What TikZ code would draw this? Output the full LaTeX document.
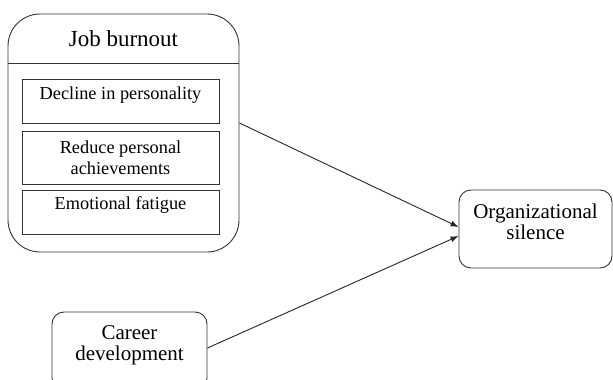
\documentclass[tikz,border=0pt]{standalone}
\usepackage{fontspec}
\setmainfont{Liberation Serif}
\usetikzlibrary{arrows.meta}
% two-line label lifted by #1 above the centre of its box
\newcommand{\liftedlines}[2]{\raisebox{#1}[0pt][0pt]{\begin{tabular}{@{}c@{}}#2\end{tabular}}}
\begin{document}
\begin{tikzpicture}[x=1pt,y=-1pt,
  frame/.style={draw=black!80,line width=0.9pt,inner sep=0pt},
  subbox/.style={frame,minimum width=197pt,font=\fontsize{18.3}{20.5}\selectfont,align=center},
  outerbox/.style={frame,rounded corners=12pt,minimum width=153pt,font=\fontsize{21}{21}\selectfont},
  link/.style={draw=black!85,line width=0.9pt,-{Latex[length=8pt,width=6pt]}}]
\useasboundingbox (0,0) rectangle (613,380);
\clip (0,0) rectangle (613,380);

% Job burnout group
\node[frame,rounded corners=32pt,minimum width=231pt,minimum height=238pt] (burnout) at (123.5,133) {};
\draw[black!80,line width=0.9pt] (burnout.west |- 0,63) -- (burnout.east |- 0,63);
\node[font=\fontsize{23}{24}\selectfont] (title) at (123.5,39) {Job burnout};
\node[subbox,text height=20pt,text depth=24pt] (decline) at (120.5,101) {Decline in personality};
\node[subbox,minimum height=53pt] (reduce) at (120.5,157.5) {Reduce personal\\achievements};
\node[subbox,text height=19pt,text depth=25pt] (fatigue) at (120.5,212) {Emotional fatigue};

% Outcome and second predictor
\node[outerbox,minimum height=78pt] (silence) at (535.5,229) {\liftedlines{-0.5pt}{Organizational\\silence}};
\node[outerbox,minimum width=155pt,minimum height=78pt] (career) at (129.5,351) {\liftedlines{0.5pt}{Career\\development}};

% Paths
\draw[link] ([yshift=10pt]burnout.east) -- ([yshift=2pt]silence.west);
\draw[link] ([yshift=3pt]career.east) -- ([yshift=-7pt]silence.west);
\end{tikzpicture}
\end{document}
